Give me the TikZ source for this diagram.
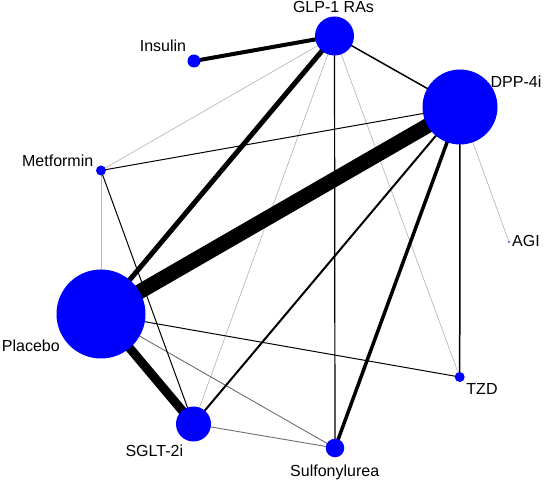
\documentclass[tikz,border=0pt]{standalone}
\usepackage{fontspec}
\setmainfont{Liberation Sans}
\usetikzlibrary{backgrounds}
\definecolor{nodeblue}{RGB}{0,0,255}
\definecolor{lightedge}{RGB}{185,185,185}
\definecolor{midedge}{RGB}{110,110,110}
\begin{document}
\begin{tikzpicture}[x=1pt,y=-1pt,
  trt/.style={circle,fill=nodeblue,draw=none,inner sep=0pt,minimum size=#1},
  lab/.style={font=\fontsize{16}{18}\selectfont,inner sep=0pt,text=black,anchor=base},
  blk/.style={draw=black,line width=#1},
  lgt/.style={draw=lightedge,line width=0.7pt},
  mid/.style={draw=midedge,line width=0.9pt}]
\useasboundingbox (0,0) rectangle (547,481);
% treatment nodes
\node[trt=39pt] (glp) at (334.5,36) {};
\node[trt=13pt] (ins) at (194,61) {};
\node[trt=75pt] (dpp) at (460,107) {};
\node[trt=10pt] (met) at (101,170.5) {};
\node[trt=1.6pt] (agi) at (509,242) {};
\node[trt=89pt] (plac) at (101,314) {};
\node[trt=10pt] (tzd) at (459.7,377) {};
\node[trt=35pt] (sglt) at (193.5,424) {};
\node[trt=18.6pt] (sulf) at (335,448) {};
% labels
\node[lab] (lglp) at (333.5,12.7) {GLP-1 RAs};
\node[lab] (lins) at (163,51.7) {Insulin};
\node[lab] (ldpp) at (516,87.7) {DPP-4i};
\node[lab] (lmet) at (57.7,166.7) {Metformin};
\node[lab] (lagi) at (526,246.7) {AGI};
\node[lab,anchor=base east] (lplac) at (60,351.7) {Placebo};
\node[lab] (ltzd) at (482,395) {TZD};
\node[lab] (lsglt) at (154.3,456.7) {SGLT-2i};
\node[lab] (lsulf) at (334.7,476) {Sulfonylurea};
% connectors
\begin{scope}[on background layer]
\draw[lgt] (glp.center) -- (met.center);
\draw[lgt] (glp.center) -- (sglt.center);
\draw[lgt] (glp.center) -- (tzd.center);
\draw[lgt] (dpp.center) -- (agi.center);
\draw[lgt] (met.center) -- (plac.center);
\draw[mid] (plac.center) -- (sulf.center);
\draw[mid] (sglt.center) -- (sulf.center);
\draw[blk=1pt] (met.center) -- (dpp.center);
\draw[blk=1pt] (met.center) -- (sglt.center);
\draw[blk=1pt] (plac.center) -- (tzd.center);
\draw[blk=1.2pt] (glp.center) -- (sulf.center);
\draw[blk=1.5pt] (glp.center) -- (dpp.center);
\draw[blk=1.5pt] (dpp.center) -- (tzd.center);
\draw[blk=2pt] (dpp.center) -- (sglt.center);
\draw[blk=3.5pt] (dpp.center) -- (sulf.center);
\draw[blk=4pt] (glp.center) -- (ins.center);
\draw[blk=5pt] (glp.center) -- (plac.center);
\draw[blk=9pt] (plac.center) -- (sglt.center);
\draw[blk=15pt] (dpp.center) -- (plac.center);
\end{scope}
\end{tikzpicture}
\end{document}
